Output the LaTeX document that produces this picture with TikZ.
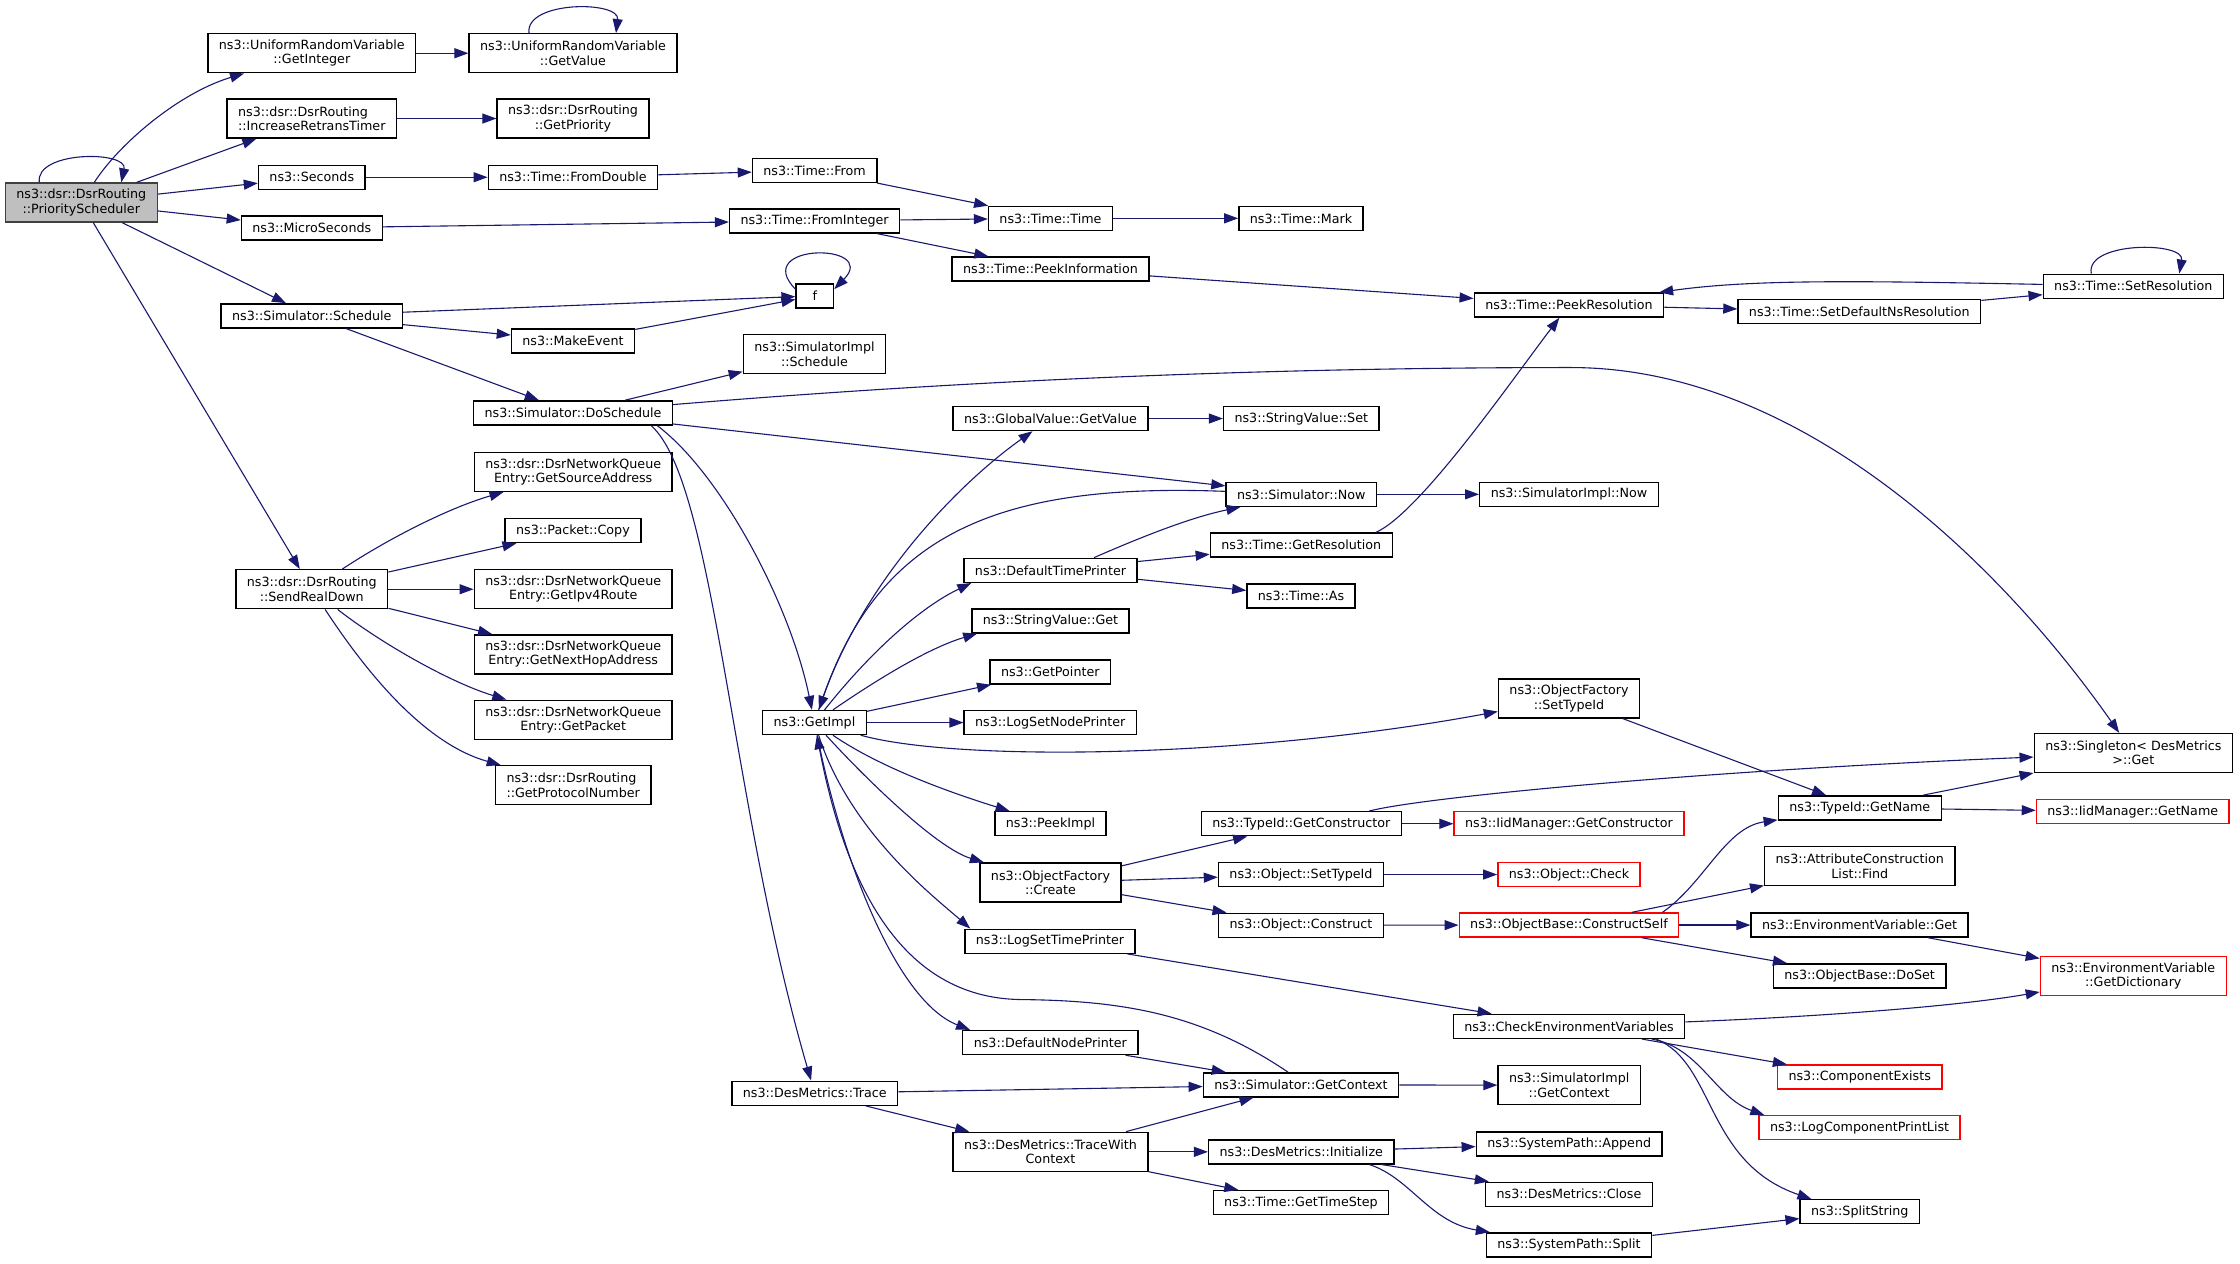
\documentclass[tikz,border=0pt]{standalone}
\usepackage{fontspec}
\setmainfont{DejaVu Sans}
\usetikzlibrary{arrows.meta,calc}
\definecolor{edgeblue}{HTML}{191970}

\begin{document}
\begin{tikzpicture}[x=0.5pt,y=-0.5pt,
        every node/.style={shape=rectangle,draw=black,line width=0.7pt,fill=white,align=center,
            font=\fontsize{6.35}{7.15}\selectfont,inner xsep=5.5pt,inner ysep=0pt,minimum height=12pt},
        fn2/.style={minimum height=19.5pt},
        trunc/.style={draw=red},
        rootfn/.style={fill=black!25,draw=black!75,minimum height=19.5pt},
        call/.style={draw=edgeblue,line width=0.55pt,-{Triangle[length=7pt,width=5pt]}},
        ]
\path[fill=white] (0,0) rectangle (2240,1261);

\node [rootfn] (prio) at (81.3,200) {ns3::dsr::DsrRouting\\::PriorityScheduler};
\node [fn2] (getint) at (311.8,50.7) {ns3::UniformRandomVariable\\::GetInteger};
\node [fn2,align=left] (incr) at (311.8,116) {ns3::dsr::DsrRouting\\::IncreaseRetransTimer};
\node (secs) at (311.8,174.7) {ns3::Seconds};
\node (micro) at (311.8,225.3) {ns3::MicroSeconds};
\node (sched) at (311.8,313.3) {ns3::Simulator::Schedule};
\node [fn2] (sendrd) at (311.8,586.7) {ns3::dsr::DsrRouting\\::SendRealDown};

\node [fn2] (getval) at (573,50.7) {ns3::UniformRandomVariable\\::GetValue};
\node [fn2] (getprio) at (573,116) {ns3::dsr::DsrRouting\\::GetPriority};
\node (fromdbl) at (573,174.7) {ns3::Time::FromDouble};
\node (mkevent) at (573,338.5) {ns3::MakeEvent};
\node (dosched) at (573,410.3) {ns3::Simulator::DoSchedule};
\node [fn2] (srcaddr) at (573.2,469.3) {ns3::dsr::DsrNetworkQueue\\Entry::GetSourceAddress};
\node (pktcopy) at (573,528) {ns3::Packet::Copy};
\node [fn2] (ipv4route) at (573.2,586.7) {ns3::dsr::DsrNetworkQueue\\Entry::GetIpv4Route};
\node [fn2] (nexthop) at (573.2,651.8) {ns3::dsr::DsrNetworkQueue\\Entry::GetNextHopAddress};
\node [fn2] (getpkt) at (573.2,717.2) {ns3::dsr::DsrNetworkQueue\\Entry::GetPacket};
\node [fn2,align=left] (protonum) at (573.2,782.7) {ns3::dsr::DsrRouting\\::GetProtocolNumber};

\node (tfrom) at (814.6,167.8) {ns3::Time::From};
\node (fromint) at (814.6,218.3) {ns3::Time::FromInteger};
\node [minimum width=18.7pt] (f) at (814.8,293.3) {f};
\node [fn2] (implsched) at (814.5,351.7) {ns3::SimulatorImpl\\::Schedule};
\node (getimpl) at (814.5,720) {ns3::GetImpl};
\node (trace) at (814.8,1090.7) {ns3::DesMetrics::Trace};

\node (ttime) at (1050.5,215.8) {ns3::Time::Time};
\node (peekinfo) at (1050.5,266.5) {ns3::Time::PeekInformation};
\node (gvget) at (1050.5,416) {ns3::GlobalValue::GetValue};
\node (dtp) at (1050.5,567.8) {ns3::DefaultTimePrinter};
\node (svget) at (1050.5,618.3) {ns3::StringValue::Get};
\node (getptr) at (1050.3,669.5) {ns3::GetPointer};
\node (lsnp) at (1050.3,720) {ns3::LogSetNodePrinter};
\node (peekimpl) at (1050.5,821.2) {ns3::PeekImpl};
\node [fn2] (ofcreate) at (1050.5,880) {ns3::ObjectFactory\\::Create};
\node (lstp) at (1050,938.7) {ns3::LogSetTimePrinter};
\node (dnp) at (1050.3,1040) {ns3::DefaultNodePrinter};
\node [fn2] (twc) at (1050.5,1149.3) {ns3::DesMetrics::TraceWith\\Context};

\node (tmark) at (1301,215.8) {ns3::Time::Mark};
\node (svset) at (1301.3,416) {ns3::StringValue::Set};
\node (simnow) at (1301.3,491.8) {ns3::Simulator::Now};
\node (getres) at (1301.3,542.5) {ns3::Time::GetResolution};
\node (tas) at (1301,593.5) {ns3::Time::As};
\node (getctor) at (1301.3,821.2) {ns3::TypeId::GetConstructor};
\node (osettid) at (1301,872) {ns3::Object::SetTypeId};
\node (oconstruct) at (1301,922.7) {ns3::Object::Construct};
\node (getctx) at (1301,1082.3) {ns3::Simulator::GetContext};
\node (init) at (1301.3,1149.3) {ns3::DesMetrics::Initialize};
\node (timestep) at (1301,1200) {ns3::Time::GetTimeStep};

\node (peekres) at (1569,302.5) {ns3::Time::PeekResolution};
\node (implnow) at (1569,491.8) {ns3::SimulatorImpl::Now};
\node [fn2] (ofsettid) at (1569,695.8) {ns3::ObjectFactory\\::SetTypeId};
\node [trunc] (iidctor) at (1569,821.2) {ns3::IidManager::GetConstructor};
\node [trunc] (ocheck) at (1569,872) {ns3::Object::Check};
\node [trunc] (cself) at (1569,922.5) {ns3::ObjectBase::ConstructSelf};
\node (checkenv) at (1569,1023.8) {ns3::CheckEnvironmentVariables};
\node [fn2] (implctx) at (1569.2,1082.7) {ns3::SimulatorImpl\\::GetContext};
\node (spappend) at (1569.2,1141.3) {ns3::SystemPath::Append};
\node (dmclose) at (1569,1191.7) {ns3::DesMetrics::Close};
\node (spsplit) at (1569,1242.3) {ns3::SystemPath::Split};

\node (setdefns) at (1859.3,309.2) {ns3::Time::SetDefaultNsResolution};
\node (tidname) at (1859.8,805.3) {ns3::TypeId::GetName};
\node [fn2] (acfind) at (1859.8,863.7) {ns3::AttributeConstruction\\List::Find};
\node (envget) at (1859.6,922.5) {ns3::EnvironmentVariable::Get};
\node (doset) at (1859.6,973.3) {ns3::ObjectBase::DoSet};
\node [trunc] (compexists) at (1859.7,1074.5) {ns3::ComponentExists};
\node [trunc] (logcpl) at (1859.6,1125.2) {ns3::LogComponentPrintList};
\node (splitstr) at (1859.8,1209.2) {ns3::SplitString};

\node (setres) at (2133.3,283.7) {ns3::Time::SetResolution};
\node [fn2] (singleton) at (2133.3,750.5) {ns3::Singleton< DesMetrics\\ >::Get};
\node [trunc] (iidname) at (2132.8,809.2) {ns3::IidManager::GetName};
\node [fn2,trunc] (envdict) at (2133.3,973.2) {ns3::EnvironmentVariable\\::GetDictionary};

% self calls
\draw[call] ([xshift=-21pt]prio.north) .. controls (35,148) and (128,148) .. ([xshift=20pt]prio.north);
\draw[call] ([xshift=-22pt]getval.north) .. controls (525,-2) and (620,-2) .. ([xshift=21.5pt]getval.north);
\draw[call] ([yshift=-3pt]f.north west) .. controls (750,240) and (880,240) .. ([yshift=-3pt]f.north east);
\draw[call] ([xshift=-21pt]setres.north) .. controls (2085,238.7) and (2185,238.7) .. ([xshift=23pt]setres.north);

\draw[call] (prio) .. controls (120,140) and (180,90) .. (getint);
\path (prio) edge[call] (incr);
\path (prio) edge[call] (secs);
\path (prio) edge[call] (micro);
\path (prio) edge[call] (sched);
\path (prio) edge[call] (sendrd);

\path (getint) edge[call] (getval);
\path (incr) edge[call] (getprio);
\path (secs) edge[call] (fromdbl);
\path (fromdbl) edge[call] (tfrom);
\path (micro) edge[call] (fromint);
\path (tfrom) edge[call] (ttime);
\path (fromint) edge[call] (ttime);
\path (fromint) edge[call] (peekinfo);
\path (ttime) edge[call] (tmark);
\path (peekinfo) edge[call] (peekres);
\path (peekres) edge[call] (setdefns);
\path (setdefns) edge[call] (setres);
\draw[call] (setres) .. controls (1850,278) and (1750,277) .. (peekres);

\path (sched) edge[call] (f);
\path (sched) edge[call] (mkevent);
\path (mkevent) edge[call] (f);
\path (sched) edge[call] (dosched);

\path (dosched) edge[call] (implsched);
\path (dosched) edge[call] (simnow);
\draw[call] (dosched) .. controls (1000,375) and (1300,365) .. (1571,365)
    .. controls (1800,365) and (2000,560) .. (singleton);
\draw[call] ([xshift=-8pt]dosched.south east) .. controls (720,470) and (790,600) .. (getimpl);
\draw[call] ([xshift=-11pt]dosched.south east) .. controls (715,480) and (730,800) .. (trace);

\path (gvget) edge[call] (svset);
\path (simnow) edge[call] (implnow);
\draw[call] (simnow) .. controls (1000,480) and (880,530) .. (getimpl);
\draw[call] ([xshift=-8.5pt]getres.north east) .. controls (1420,510) and (1510,380) .. (peekres);
\draw[call] ([xshift=21.75pt]dtp.north) .. controls (1140,535) and (1190,515) .. (simnow);
\path (dtp) edge[call] (getres);
\path (dtp) edge[call] (tas);

% GetImpl
\draw[call] (getimpl) .. controls (860,580) and (960,480) .. (gvget);
\draw[call] (getimpl) .. controls (870,650) and (920,605) .. ([xshift=4pt]dtp.south west);
\draw[call] (getimpl) .. controls (880,675) and (930,645) .. ([xshift=3pt]svget.south west);
\path (getimpl) edge[call] (getptr);
\path (getimpl) edge[call] (lsnp);
\draw[call] (getimpl) .. controls (960,760) and (1250,755) .. (ofsettid);
\draw[call] (getimpl) .. controls (880,765) and (950,790) .. (peekimpl);
\draw[call] (getimpl) .. controls (860,770) and (935,845) .. (ofcreate);
\draw[call] (getimpl) .. controls (850,830) and (935,895) .. ([xshift=3pt]lstp.north west);
\draw[call] (getimpl) .. controls (845,870) and (900,1000) .. ([xshift=4pt]dnp.north west);
\draw[call] ([xshift=-6.5pt]getctx.north) .. controls (1200,1010) and (1120,998) .. (1020,997)
    .. controls (900,995) and (845,880) .. (getimpl);

\path (ofsettid) edge[call] (tidname);
\path (tidname) edge[call] (singleton);
\path (tidname) edge[call] (iidname);
\path (getctor) edge[call] (iidctor);
\draw[call] ([xshift=34pt]getctor.north) .. controls (1420,795) and (1700,768) .. (singleton);
\path (ofcreate) edge[call] (getctor);
\path (ofcreate) edge[call] (osettid);
\path (ofcreate) edge[call] (oconstruct);
\path (osettid) edge[call] (ocheck);
\path (oconstruct) edge[call] (cself);
\draw[call] ([xshift=46.75pt]cself.north) .. controls (1705,880) and (1725,825) .. (tidname);
\path (cself) edge[call] (acfind);
\path (cself) edge[call] (envget);
\path (cself) edge[call] (doset);
\path (envget) edge[call] (envdict);

\path (lstp) edge[call] (checkenv);
\draw[call] (checkenv) .. controls (1800,1015) and (1950,1005) .. (envdict);
\path (checkenv) edge[call] (compexists);
\draw[call] ([xshift=41.35pt]checkenv.south) .. controls (1700,1045) and (1715,1095) .. ([xshift=3pt]logcpl.north west);
\draw[call] ([xshift=43.5pt]checkenv.south) .. controls (1715,1060) and (1705,1160) .. ([xshift=6pt]splitstr.north west);

\path (dnp) edge[call] (getctx);
\path (trace) edge[call] (getctx);
\path (trace) edge[call] (twc);
\path (twc) edge[call] (getctx);
\path (getctx) edge[call] (implctx);
\path (twc) edge[call] (init);
\path (twc) edge[call] (timestep);
\path (init) edge[call] (spappend);
\path (init) edge[call] (dmclose);
\draw[call] ([xshift=34pt]init.south) .. controls (1410,1175) and (1430,1220) .. (spsplit);
\path (spsplit) edge[call] (splitstr);

% SendRealDown
\draw[call] (sendrd) .. controls (390,535) and (450,505) .. (srcaddr);
\path (sendrd) edge[call] (pktcopy);
\path (sendrd) edge[call] (ipv4route);
\path (sendrd) edge[call] (nexthop);
\draw[call] (sendrd) .. controls (380,640) and (450,680) .. (getpkt);
\draw[call] (sendrd) .. controls (360,660) and (420,740) .. (protonum);

\end{tikzpicture}
\end{document}
